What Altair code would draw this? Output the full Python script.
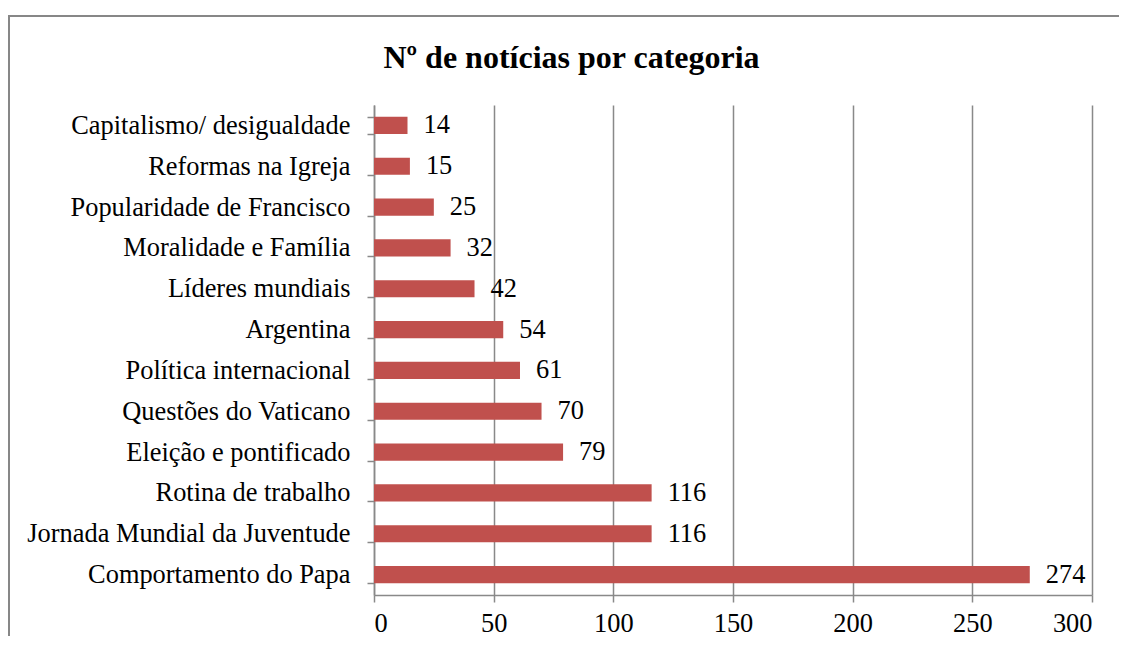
import altair as alt
import pandas as pd

categorias = [
    "Capitalismo/ desigualdade",
    "Reformas na Igreja",
    "Popularidade de Francisco",
    "Moralidade e Família",
    "Líderes mundiais",
    "Argentina",
    "Política internacional",
    "Questões do Vaticano",
    "Eleição e pontificado",
    "Rotina de trabalho",
    "Jornada Mundial da Juventude",
    "Comportamento do Papa",
]
valores = [14, 15, 25, 32, 42, 54, 61, 70, 79, 116, 116, 274]
ticks_x = [0, 50, 100, 150, 200, 250, 300]

df = pd.DataFrame({"categoria": categorias, "valor": valores})

W, H = 718, 490
FONT = "Liberation Serif"
GRAY = "#898989"

y_enc = alt.Y(
    "categoria:N",
    sort=categorias,
    scale=alt.Scale(paddingInner=0.58, paddingOuter=0.29),
    axis=alt.Axis(
        title=None,
        labelFont=FONT,
        labelFontSize=26.4,
        labelColor="black",
        labelPadding=17,
        labelLimit=400,
        tickSize=7,
        tickBand="extent",
        tickColor=GRAY,
        tickWidth=1.5,
        domainColor=GRAY,
        domainWidth=1.5,
        grid=False,
    ),
)
x_enc = alt.X(
    "valor:Q",
    scale=alt.Scale(domain=[0, 300], nice=False),
    axis=alt.Axis(
        title=None,
        values=ticks_x,
        labelFont=FONT,
        labelFontSize=26.4,
        labelColor="black",
        labelPadding=8,
        tickSize=7,
        tickColor=GRAY,
        tickWidth=1.5,
        domainColor=GRAY,
        domainWidth=1.5,
        grid=True,
        gridColor=GRAY,
        gridWidth=1.5,
    ),
)

bars = alt.Chart(df).mark_bar(color="#C0504D").encode(y=y_enc, x=x_enc)
labels = alt.Chart(df).mark_text(
    align="left", baseline="middle", dx=16, font=FONT, fontSize=26.4, color="black"
).encode(y=alt.Y("categoria:N", sort=categorias), x="valor:Q", text="valor:Q")

frame = alt.Chart(df).mark_rect(
    fill=None, stroke="#878787", strokeWidth=2
).encode(
    x=alt.value(-365), x2=alt.value(760),
    y=alt.value(-89), y2=alt.value(600),
)

chart = alt.layer(frame, bars, labels).properties(
    width=W,
    height=H,
    autosize=alt.AutoSizeParams(type="none"),
    padding={"left": 366, "top": 97, "right": 27, "bottom": 41},
    title=alt.TitleParams(
        "Nº de notícias por categoria",
        font=FONT,
        fontSize=32,
        fontWeight="bold",
        color="black",
        anchor="middle",
        frame="bounds",
        dx=0,
        offset=-60,
    ),
).configure_view(stroke=None)

chart.save("out.html", embed_options={"renderer": "svg", "actions": False})
